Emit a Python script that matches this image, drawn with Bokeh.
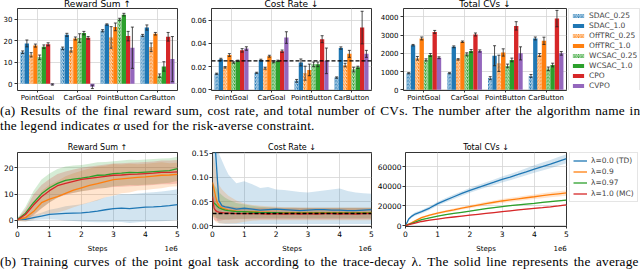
from bokeh.plotting import figure
from bokeh.layouts import column, row
from bokeh.models import (ColumnDataSource, FactorRange, Range1d, Whisker, TeeHead, Legend,
                          LegendItem, Span, Div, FixedTicker, NumeralTickFormatter, LinearAxis)
from bokeh.transform import dodge
from bokeh.embed import file_html
from bokeh.resources import INLINE

# ---------------- data: final results (bar charts) ----------------
envs = ["PointGoal", "CarGoal", "PointButton", "CarButton"]
algos = ["SDAC_0.25", "SDAC_1.0", "OffTRC_0.25", "OffTRC_1.0",
         "WCSAC_0.25", "WCSAC_1.0", "CPO", "CVPO"]
algo_colors = ["#1f77b4", "#1f77b4", "#ff7f0e", "#ff7f0e",
               "#2ca02c", "#2ca02c", "#d62728", "#9467bd"]
algo_hatched = [True, False, True, False, True, False, False, False]

# one row per algorithm, one value per env
reward_mean = [[14.7, 16.5, 24.7, 22.5], [18.8, 22.8, 27.6, 26.2],
               [13.5, 15.8, 21.6, 17.0], [17.8, 21.1, 26.5, 23.3],
               [12.4, 21.3, 30.0, 3.8], [17.3, 23.6, 32.2, 8.1],
               [18.4, 21.4, 22.2, 21.9], [-0.3, -1.4, 16.8, 11.5]]
reward_err = [[0.6, 0.6, 0.5, 0.5], [1.6, 0.7, 0.3, 1.2],
              [1.0, 1.0, 5.0, 2.0], [0.7, 0.7, 1.8, 0.6],
              [1.0, 2.0, 0.5, 0.8], [0.8, 0.8, 0.6, 2.2],
              [0.7, 0.6, 2.2, 2.0], [0.3, 0.8, 9.6, 10.5]]
cost_mean = [[0.0139, 0.0147, 0.0078, 0.0106], [0.0264, 0.0258, 0.0236, 0.0360],
             [0.0194, 0.0186, 0.0144, 0.0214], [0.0300, 0.0290, 0.0172, 0.0310],
             [0.0236, 0.0240, 0.0220, 0.0175], [0.0250, 0.0250, 0.0220, 0.0194],
             [0.0340, 0.0333, 0.0436, 0.0536], [0.0356, 0.0450, 0.0250, 0.0310]]
cost_err = [[0.0005, 0.0005, 0.0012, 0.0006], [0.0008, 0.0006, 0.0030, 0.0010],
            [0.0006, 0.0008, 0.0060, 0.0015], [0.0012, 0.0008, 0.0050, 0.0030],
            [0.0006, 0.0006, 0.0020, 0.0020], [0.0006, 0.0006, 0.0020, 0.0010],
            [0.0015, 0.0010, 0.0030, 0.0140], [0.0015, 0.0050, 0.0110, 0.0030]]
cv_mean = [[910, 910, 640, 760], [2450, 2360, 1870, 2820],
           [1730, 1670, 1450, 1910], [2820, 2640, 2050, 2690],
           [1640, 1950, 1310, 1150], [1910, 2130, 1640, 1360],
           [3180, 3040, 3510, 3910], [1760, 2130, 2000, 2000]]
cv_err = [[30, 30, 80, 80], [40, 50, 550, 80],
          [100, 40, 450, 80], [80, 40, 200, 200],
          [60, 80, 100, 100], [80, 80, 100, 100],
          [80, 80, 230, 450], [50, 60, 360, 100]]
cost_limit = 0.025

# ---------------- data: training curves (point goal) ----------------
lambdas = ["λ=0.0 (TD)", "λ=0.9", "λ=0.97", "λ=1.0 (MC)"]
lambda_colors = ["#1f77b4", "#ff7f0e", "#2ca02c", "#d62728"]

steps_reward = [0, 0.25, 0.5, 0.75, 1.0, 1.25, 1.5, 1.75, 2.0, 2.25, 2.5,
                2.75, 3.0, 3.25, 3.5, 3.75, 4.0, 4.25, 4.5, 4.75, 5.0]
rew_curve_mean = [
    [0.5, 0.3, 1.0, 1.6, 2.2, 2.4, 2.6, 2.7, 2.8, 3.1, 3.5, 4.0, 4.4, 4.6, 4.4, 4.7, 5.0, 5.1, 5.3, 5.6, 6.0],
    [0.2, 1.0, 3.3, 6.7, 8.1, 9.0, 10.3, 11.5, 12.4, 13.3, 14.0, 14.8, 15.5, 15.8, 16.1, 16.4, 16.6, 16.9, 17.2, 17.3, 17.5],
    [0.3, 2.7, 6.7, 10.1, 12.4, 14.1, 15.2, 15.7, 16.1, 16.6, 17.2, 17.3, 17.8, 18.0, 18.3, 18.2, 18.4, 18.6, 18.8, 19.0, 19.7],
    [0.2, 2.2, 5.8, 9.0, 11.3, 13.2, 14.1, 14.9, 15.6, 16.0, 16.4, 16.8, 17.2, 17.3, 17.5, 17.6, 17.8, 18.0, 18.3, 18.3, 18.5]]
rew_curve_std = [
    [0.8, 0.8, 1.0, 1.3, 1.8, 2.2, 2.7, 3.0, 3.3, 3.8, 4.3, 4.8, 5.0, 5.3, 5.5, 5.5, 5.5, 5.6, 5.7, 5.8, 5.8],
    [0.5, 1.5, 3.0, 4.5, 5.5, 6.0, 6.5, 6.5, 6.5, 6.5, 6.5, 6.0, 6.0, 5.5, 5.5, 5.0, 5.0, 5.0, 5.0, 4.5, 4.5],
    [0.5, 2.5, 4.5, 5.5, 5.5, 5.5, 5.3, 5.2, 5.0, 5.0, 5.0, 5.0, 4.8, 4.8, 4.8, 4.8, 4.8, 4.8, 4.8, 4.7, 4.6],
    [0.5, 2.0, 4.0, 4.5, 4.5, 4.5, 4.5, 4.5, 4.5, 4.5, 4.5, 4.5, 4.5, 4.5, 4.5, 4.5, 4.5, 4.5, 4.5, 4.5, 4.5]]

steps_cost = [0, 0.05, 0.1, 0.15, 0.2, 0.3, 0.4, 0.5, 0.75, 1.0, 1.25, 1.5, 1.75,
              2.0, 2.25, 2.5, 2.75, 3.0, 3.25, 3.5, 3.75, 4.0, 4.25, 4.5, 4.75, 5.0]
cost_curve_mean = [
    [0.19, 0.17, 0.15, 0.10, 0.052, 0.041, 0.039, 0.038, 0.034, 0.036, 0.034, 0.032, 0.033,
     0.034, 0.033, 0.032, 0.031, 0.032, 0.033, 0.033, 0.032, 0.032, 0.031, 0.031, 0.032, 0.033],
    [0.09, 0.075, 0.06, 0.048, 0.042, 0.036, 0.034, 0.032, 0.030, 0.029, 0.029, 0.028, 0.028,
     0.027, 0.027, 0.027, 0.027, 0.027, 0.027, 0.027, 0.027, 0.027, 0.027, 0.027, 0.027, 0.027],
    [0.05, 0.047, 0.044, 0.040, 0.037, 0.034, 0.032, 0.031, 0.029, 0.029, 0.028, 0.027, 0.027,
     0.027, 0.026, 0.026, 0.026, 0.026, 0.026, 0.026, 0.026, 0.026, 0.026, 0.026, 0.026, 0.026],
    [0.06, 0.036, 0.031, 0.029, 0.028, 0.027, 0.026, 0.026, 0.025, 0.025, 0.025, 0.025, 0.024,
     0.025, 0.024, 0.025, 0.024, 0.025, 0.024, 0.025, 0.025, 0.024, 0.025, 0.024, 0.025, 0.025]]
cost_curve_lo = [
    [0.06, 0.04, 0.02, 0.01, 0.005, 0.004, 0.003, 0.003, 0.003, 0.003, 0.003, 0.003, 0.003,
     0.003, 0.003, 0.003, 0.003, 0.003, 0.003, 0.003, 0.003, 0.003, 0.003, 0.003, 0.003, 0.003],
    [0.02, 0.012, 0.008, 0.006, 0.005, 0.004, 0.004, 0.004, 0.005, 0.008, 0.010, 0.011, 0.011,
     0.011, 0.011, 0.011, 0.011, 0.011, 0.011, 0.011, 0.011, 0.011, 0.011, 0.011, 0.011, 0.011],
    [0.02, 0.018, 0.016, 0.015, 0.014, 0.013, 0.013, 0.013, 0.014, 0.014, 0.015, 0.015, 0.015,
     0.015, 0.015, 0.015, 0.015, 0.015, 0.015, 0.015, 0.015, 0.015, 0.015, 0.015, 0.015, 0.015],
    [0.025, 0.012, 0.010, 0.010, 0.010, 0.011, 0.012, 0.012, 0.013, 0.013, 0.013, 0.013, 0.013,
     0.013, 0.013, 0.013, 0.013, 0.013, 0.013, 0.013, 0.013, 0.013, 0.013, 0.013, 0.013, 0.013]]
cost_curve_hi = [
    [0.30, 0.26, 0.22, 0.18, 0.15, 0.135, 0.12, 0.106, 0.088, 0.092, 0.086, 0.078, 0.080,
     0.075, 0.074, 0.072, 0.070, 0.069, 0.071, 0.073, 0.075, 0.077, 0.072, 0.069, 0.067, 0.066],
    [0.15, 0.14, 0.12, 0.10, 0.085, 0.075, 0.068, 0.062, 0.052, 0.046, 0.043, 0.041, 0.040,
     0.039, 0.038, 0.038, 0.037, 0.037, 0.037, 0.037, 0.037, 0.037, 0.037, 0.037, 0.037, 0.037],
    [0.09, 0.085, 0.08, 0.075, 0.07, 0.063, 0.058, 0.054, 0.047, 0.044, 0.041, 0.039, 0.038,
     0.037, 0.037, 0.037, 0.037, 0.037, 0.037, 0.037, 0.037, 0.037, 0.037, 0.037, 0.037, 0.037],
    [0.10, 0.065, 0.055, 0.050, 0.046, 0.043, 0.041, 0.040, 0.038, 0.037, 0.037, 0.037, 0.037,
     0.037, 0.037, 0.037, 0.037, 0.037, 0.037, 0.037, 0.037, 0.037, 0.037, 0.037, 0.037, 0.037]]

steps_cv = [0, 0.1, 0.2, 0.3, 0.5, 0.75, 1.0, 1.25, 1.5, 1.75, 2.0, 2.25,
            2.5, 2.75, 3.0, 3.25, 3.5, 3.75, 4.0, 4.25, 4.5, 4.75, 5.0]
cv_curve_mean = [
    [0, 6700, 9700, 11800, 14200, 17900, 22400, 26000, 29400, 32800, 36000, 38800,
     41500, 44200, 47000, 49500, 52100, 54800, 57600, 60200, 62700, 65500, 68200],
    [0, 1500, 3000, 4800, 8200, 10600, 12700, 14400, 16000, 17800, 19400, 20900,
     22400, 23800, 25100, 26200, 27300, 28400, 29400, 30500, 31500, 32400, 33300],
    [0, 1200, 2400, 3600, 6100, 8000, 9700, 11100, 12400, 13600, 14800, 16100,
     17300, 18400, 19400, 20300, 21200, 22000, 22700, 23600, 24500, 25300, 26000],
    [0, 900, 1700, 2500, 4200, 5500, 6700, 7800, 8800, 9700, 10600, 11500,
     12400, 13300, 14200, 15100, 16000, 16800, 17600, 18300, 19100, 20100, 21200]]
cv_curve_std = [
    [0, 1200, 1500, 1700, 1800, 1900, 2000, 2100, 2200, 2300, 2400, 2500,
     2600, 2800, 3000, 3200, 3400, 3600, 3800, 4000, 4200, 4400, 4600],
    [0, 400, 600, 800, 1000, 1100, 1200, 1300, 1400, 1500, 1600, 1700,
     1800, 1900, 2000, 2100, 2200, 2300, 2400, 2500, 2600, 2700, 2800],
    [0, 150, 200, 250, 300, 350, 400, 420, 450, 480, 500, 520,
     550, 580, 600, 620, 650, 680, 700, 720, 750, 780, 800],
    [0, 100, 150, 200, 250, 280, 300, 320, 340, 360, 380, 400,
     420, 440, 460, 480, 500, 520, 540, 560, 580, 600, 620]]

x_axis_name = "Steps"
x_axis_scale = "1e6"

# ---------------- styling helpers ----------------
FONT = "DejaVu Sans"
SERIF = "'Liberation Serif', 'Times New Roman', serif"


def make_fig(w, h, l, r, t, b, x_range, y_range, tick_size):
    p = figure(width=w, height=h, x_range=x_range, y_range=y_range,
               toolbar_location=None, output_backend="svg",
               min_border_left=l, min_border_right=r,
               min_border_top=t, min_border_bottom=b)
    p.outline_line_color = "black"
    p.outline_line_width = 0.8
    p.background_fill_color = "white"
    p.border_fill_color = "white"
    for ax in (p.xaxis[0], p.yaxis[0]):
        ax.axis_line_color = None
        ax.major_tick_line_color = "black"
        ax.major_tick_line_width = 0.8
        ax.major_tick_in = 0
        ax.major_tick_out = 3
        ax.minor_tick_line_color = None
        ax.major_label_text_font = FONT
        ax.major_label_text_font_size = tick_size
        ax.major_label_text_color = "black"
        ax.major_label_standoff = 2
    p.grid.grid_line_color = "#d4d4d4"
    p.grid.grid_line_width = 0.8
    p.title.text_font = FONT
    p.title.text_font_style = "normal"
    p.title.text_color = "black"
    p.title.align = "center"
    return p


def legend_fig(w, h, top, x_range):
    q = figure(width=w, height=h, x_range=x_range, y_range=Range1d(0, 1),
               toolbar_location=None, output_backend="svg",
               min_border_left=0, min_border_right=0, min_border_top=top, min_border_bottom=0)
    q.axis.visible = False
    q.grid.visible = False
    q.outline_line_color = None
    q.background_fill_color = "white"
    q.border_fill_color = "white"
    return q


def make_legend(items, lh, sp, pad):
    return Legend(items=items, location="top_left", orientation="vertical",
                  label_text_font=FONT, label_text_font_size="7.5px",
                  glyph_width=14, glyph_height=5, label_height=lh, spacing=sp,
                  padding=pad, margin=0, label_standoff=4,
                  border_line_color="#cccccc", border_line_width=0.8,
                  background_fill_alpha=1.0, inactive_fill_alpha=0.0)


TOP_H, TOP_T, TOP_B = 104, 8, 13
N_ALG = len(algos)
BAR_W = 0.85 / N_ALG


def draw_bar(p, src, i, visible=True):
    off = (i - (N_ALG - 1) / 2) * BAR_W
    kw = {}
    if algo_hatched[i]:
        kw = dict(hatch_pattern="/", hatch_color="white", hatch_weight=0.9,
                  hatch_scale=3.5, hatch_alpha=0.85)
    return p.vbar(x=dodge("env", off, range=p.x_range), top="top", width=BAR_W,
                  source=src, fill_color=algo_colors[i], line_color=None,
                  visible=visible, **kw), off


def bar_fig(w, l, r, means, errs, yr, yticks, fmt, title, legend_target=None):
    p = make_fig(w, TOP_H, l, r, TOP_T, TOP_B, FactorRange(factors=envs, range_padding=0),
                 Range1d(*yr), "7px")
    p.title.text = title
    p.title.text_font_size = "9px"
    p.title.vertical_align = "top"
    p.title.standoff = -5
    p.xaxis.major_tick_out = 2
    p.xaxis.major_label_standoff = 1
    p.yaxis.ticker = FixedTicker(ticks=yticks)
    p.yaxis.formatter = NumeralTickFormatter(format=fmt)
    items = []
    for i in range(N_ALG):
        lo = [m - e for m, e in zip(means[i], errs[i])]
        hi = [m + e for m, e in zip(means[i], errs[i])]
        src = ColumnDataSource(dict(env=envs, top=means[i], lo=lo, hi=hi))
        rr, off = draw_bar(p, src, i)
        wk = Whisker(source=src, base=dodge("env", off, range=p.x_range),
                     lower="lo", upper="hi", line_color="#222222", line_width=0.8,
                     level="overlay",
                     upper_head=TeeHead(size=3, line_color="#222222", line_width=0.8),
                     lower_head=TeeHead(size=3, line_color="#222222", line_width=0.8))
        p.add_layout(wk)
        if legend_target is not None:
            lr, _ = draw_bar(legend_target, src, i, visible=False)
            items.append(LegendItem(label=algos[i], renderers=[lr]))
    return p, items


# ---------------- top row ----------------
pA, _ = bar_fig(185, 16, 8, reward_mean, reward_err, (-3.1, 35.05),
                [0, 10, 20, 30], "0", "Reward Sum ↑")
pB, _ = bar_fig(191, 26, 5, cost_mean, cost_err, (-0.0005, 0.070),
                [0.0, 0.02, 0.04, 0.06], "0.00", "Cost Rate ↓")
pB.add_layout(Span(location=cost_limit, dimension="width", line_color="black",
                   line_dash="4 2", line_width=1.4))
qC = legend_fig(72, TOP_H, 7, FactorRange(factors=envs))
pC, itemsC = bar_fig(192, 27, 2, cv_mean, cv_err, (-40, 4465),
                     [0, 1000, 2000, 3000, 4000], "0", "Total CVs ↓", legend_target=qC)
qC.add_layout(make_legend(itemsC, 7, 1, 2))

# ---------------- bottom row ----------------
BOT_H, BOT_T, BOT_B = 119, 16, 20


def line_fig(w, l, r, yr, yticks, fmt, title):
    p = make_fig(w, BOT_H, l, r, BOT_T, BOT_B, Range1d(0, 5), Range1d(*yr), "7.5px")
    p.title.text = title
    p.title.text_font_size = "8px"
    p.title.vertical_align = "bottom"
    p.title.standoff = 2
    p.xaxis.ticker = FixedTicker(ticks=[0, 1, 2, 3, 4, 5])
    p.xaxis.major_tick_out = 2
    p.xaxis.major_label_standoff = 2
    p.yaxis.major_label_standoff = 1
    p.yaxis.ticker = FixedTicker(ticks=yticks)
    p.yaxis.formatter = NumeralTickFormatter(format=fmt)
    # second row under the tick labels: axis name (centre) and offset "1e6" (right)
    ax2 = LinearAxis(ticker=FixedTicker(ticks=[2.5, 4.8]),
                     major_label_overrides={2.5: x_axis_name, 4.8: x_axis_scale},
                     axis_line_color=None, major_tick_line_color=None,
                     minor_tick_line_color=None, major_tick_in=0, major_tick_out=0,
                     major_label_standoff=5, major_label_text_font=FONT,
                     major_label_text_font_size="7px", major_label_text_color="black")
    p.add_layout(ax2, "below")
    return p


pD = line_fig(188, 14, 11, (-2.4, 25.9), [0, 10, 20], "0", "Reward Sum ↑")
for k in range(4):
    lo = [m - s for m, s in zip(rew_curve_mean[k], rew_curve_std[k])]
    hi = [m + s for m, s in zip(rew_curve_mean[k], rew_curve_std[k])]
    pD.varea(x=steps_reward, y1=lo, y2=hi, fill_color=lambda_colors[k], fill_alpha=0.2)
for k in range(4):
    pD.line(steps_reward, rew_curve_mean[k], line_color=lambda_colors[k], line_width=1.3)

pE = line_fig(186, 22, 3, (-0.002, 0.152), [0.0, 0.05, 0.10, 0.15], "0.00", "Cost Rate ↓")
for k in range(4):
    pE.varea(x=steps_cost, y1=cost_curve_lo[k], y2=cost_curve_hi[k],
             fill_color=lambda_colors[k], fill_alpha=0.2)
for k in range(4):
    pE.line(steps_cost, cost_curve_mean[k], line_color=lambda_colors[k], line_width=1.3)
pE.add_layout(Span(location=cost_limit, dimension="width", line_color="black",
                   line_dash="4 2", line_width=1.4))

pF = line_fig(195, 30, 3, (-900, 74500), [0, 20000, 40000, 60000], "0", "Total CVs ↓")
qF = legend_fig(71, BOT_H, 14, Range1d(0, 5))
itemsF = []
for k in range(4):
    lo = [m - s for m, s in zip(cv_curve_mean[k], cv_curve_std[k])]
    hi = [m + s for m, s in zip(cv_curve_mean[k], cv_curve_std[k])]
    pF.varea(x=steps_cv, y1=lo, y2=hi, fill_color=lambda_colors[k], fill_alpha=0.2)
for k in range(4):
    pF.line(steps_cv, cv_curve_mean[k], line_color=lambda_colors[k], line_width=1.3)
    lr = qF.line(steps_cv, cv_curve_mean[k], line_color=lambda_colors[k], line_width=1.3,
                 visible=False)
    itemsF.append(LegendItem(label=lambdas[k], renderers=[lr]))
qF.add_layout(make_legend(itemsF, 7, 2, 3))

# ---------------- captions ----------------
cap_a = Div(text=('<span style="word-spacing:1.25px">(a) Results of the final reward sum, '
                  'cost rate, and total number of CVs. The number after the algorithm '
                  'name in</span><br>the legend indicates <i>α</i> used for the '
                  'risk-averse constraint.'),
            width=640, height=32, margin=0,
            styles={"font-family": SERIF, "font-size": "13.3px", "line-height": "14.8px",
                    "letter-spacing": "0.2px", "white-space": "nowrap", "color": "black"})
cap_b = Div(text=("(b) Training curves of the point goal task according to the trace-decay "
                  "λ. The solid line represents the average"),
            width=640, height=18, margin=0,
            styles={"font-family": SERIF, "font-size": "13.3px", "line-height": "14.8px",
                    "letter-spacing": "0.2px", "word-spacing": "1.9px",
                    "white-space": "nowrap", "color": "black"})

p = column(row(pA, pB, pC, qC, spacing=0), cap_a,
           row(pD, pE, pF, qF, spacing=0), cap_b, spacing=0)

open("out.html", "w").write(file_html(p, INLINE))
